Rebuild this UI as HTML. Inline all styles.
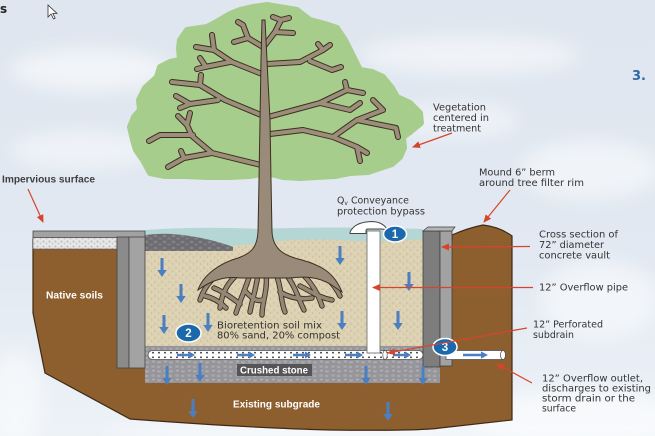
<!DOCTYPE html>
<html><head><meta charset="utf-8"><style>
html,body{margin:0;padding:0;width:655px;height:436px;overflow:hidden;background:#e2e9f1}
svg{display:block}
.lb{font-family:"DejaVu Sans","Liberation Sans",sans-serif;font-size:9.5px;fill:#333}
.wb{font-family:"Liberation Sans",sans-serif;font-weight:bold;font-size:10px;fill:#fff}
</style></head><body>
<svg width="655" height="436" viewBox="0 0 655 436" xmlns="http://www.w3.org/2000/svg">
<defs>
<linearGradient id="sky" x1="0" y1="0" x2="0" y2="1">
<stop offset="0" stop-color="#dfe6ef"/><stop offset="0.6" stop-color="#e2e9f2"/><stop offset="1" stop-color="#edf2f7"/>
</linearGradient>
<filter id="bl" x="-50%" y="-50%" width="200%" height="200%"><feGaussianBlur stdDeviation="9"/></filter>
<pattern id="sand" width="7" height="7" patternUnits="userSpaceOnUse">
<rect width="7" height="7" fill="#dcd1b2"/>
<circle cx="1" cy="2" r="0.6" fill="#bfae86"/><circle cx="4.5" cy="5" r="0.6" fill="#c4b48e"/>
<circle cx="5" cy="1" r="0.5" fill="#efe7d1"/><circle cx="2" cy="5.5" r="0.5" fill="#eee5cd"/>
</pattern>
<pattern id="stone" width="12" height="9" patternUnits="userSpaceOnUse">
<rect width="12" height="9" fill="#97979b"/>
<ellipse cx="3" cy="2.3" rx="2.7" ry="1.9" fill="#a8a8ac" stroke="#86868b" stroke-width="0.5"/>
<ellipse cx="9" cy="6.5" rx="2.7" ry="1.9" fill="#a5a5a9" stroke="#86868b" stroke-width="0.5"/>
<ellipse cx="9.5" cy="1.5" rx="1.5" ry="1.1" fill="#aeaeb2"/>
<ellipse cx="2.5" cy="7" rx="1.6" ry="1.2" fill="#aaaaae"/>
</pattern>
<pattern id="pile" width="9" height="6" patternUnits="userSpaceOnUse">
<rect width="9" height="6" fill="#6c6c71"/>
<ellipse cx="2.5" cy="2" rx="2" ry="1.4" fill="#828288"/><ellipse cx="7" cy="4.5" rx="2" ry="1.3" fill="#7c7c82"/>
</pattern>
<pattern id="grav" width="6" height="5" patternUnits="userSpaceOnUse">
<rect width="6" height="5" fill="#e7e7e7"/>
<circle cx="1.5" cy="1.5" r="1" fill="#b9b9b9"/><circle cx="4.5" cy="3.5" r="0.9" fill="#c4c4c4"/>
</pattern>
<pattern id="perf" width="6" height="9" patternUnits="userSpaceOnUse" x="150" y="350.5">
<circle cx="3" cy="2.2" r="0.9" fill="#2c2c2c"/><circle cx="3" cy="6.8" r="0.9" fill="#2c2c2c"/>
</pattern>
<marker id="ah" markerWidth="8" markerHeight="7" refX="7" refY="3.5" orient="auto" markerUnits="userSpaceOnUse">
<path d="M0,0 L8,3.5 L0,7 z" fill="#d5452c"/>
</marker>
<path id="da" d="M-1.5,0 h3 v12 h3.2 l-4.7,7 l-4.7,-7 h3.2 z" fill="#4b7fc2"/>
<path id="ra" d="M0,-1.2 h12 v-2.4 l6,3.6 l-6,3.6 v-2.4 h-12 z" fill="#4b7fc2"/>
<g id="br">
<path d="M262,74 L232,62 L214,50 L196,47 M214,50 L212,35 M230,62 L205,67 L197,69 M206,67 L200,58"/>
<path d="M261,115 L225,100 L200,85 L172,82 M200,85 L201,75 M218,100 L190,104 L180,108 M190,104 L176,96"/>
<path d="M261,165 L212,153 L192,136 L187,125 L178,116 M187,125 L190,113 M212,153 L184,158 L168,167 M184,158 L181,151 M193,135 L160,135 L149,141"/>
<path d="M263,47 L248,38 L243,25 L238,22 M248,38 L234,42 M265,45 L275,32 L281,20 L273,17 M275,32 L293,33 M281,20 L289,18"/>
<path d="M267,64 L300,62 L323,50 L330,45 M323,50 L318,44 M310,61 L332,70 L341,67"/>
<path d="M268,117 L320,103 L347,90 L363,93 M347,90 L345,82 M320,103 L350,110 L360,103"/>
<path d="M270,134 L303,130 L333,137 L357,120 L383,110 L373,100 M357,120 L396,128 L398,137 M333,137 L357,147 L367,153 M357,147 L360,161"/>
</g>
<g id="rt">
<path d="M232,266 C218,272 206,282 200,300 M240,272 C228,282 222,292 220,308 M250,274 C246,288 240,300 236,313 M258,274 C256,290 252,300 250,312 M266,274 C268,290 262,302 262,315 M276,274 C282,288 280,300 285,312 M286,274 C296,288 298,298 304,310 M298,270 C312,282 318,294 322,306 M310,268 C325,275 334,283 340,296"/>
<path d="M214,288 C224,292 232,298 240,304 M280,292 C290,298 300,300 312,298 M205,296 C214,298 220,302 226,308 M246,292 C252,298 256,302 262,300 M300,286 C312,292 320,298 332,300"/>
</g>
</defs>

<!-- background -->
<rect width="655" height="436" fill="url(#sky)"/>
<g filter="url(#bl)" fill="#fff">
<ellipse cx="90" cy="70" rx="80" ry="22" opacity="0.55"/>
<ellipse cx="470" cy="55" rx="110" ry="20" opacity="0.5"/>
<ellipse cx="590" cy="170" rx="70" ry="30" opacity="0.5"/>
<ellipse cx="80" cy="150" rx="70" ry="20" opacity="0.45"/>
<ellipse cx="460" cy="120" rx="60" ry="18" opacity="0.45"/>
<ellipse cx="600" cy="300" rx="60" ry="40" opacity="0.5"/>
<ellipse cx="580" cy="420" rx="110" ry="30" opacity="0.6"/>
<ellipse cx="15" cy="400" rx="30" ry="50" opacity="0.5"/>
<ellipse cx="300" cy="432" rx="200" ry="10" opacity="0.6"/>
</g>

<!-- tree crown -->
<polygon fill="#a7cd8c" stroke="#a7cd8c" stroke-width="6" stroke-linejoin="round" points="253,7 267,5 285,8 297,10 310,20 325,24 337,28 345,40 350,50 356,62 360,70 372,72 383,77 392,88 397,97 410,103 420,113 421,123 410,132 403,137 404,148 400,157 392,164 383,167 368,172 350,173 335,176 317,177 300,178 283,177 267,173 250,176 230,177 207,177 185,176 165,176 150,173 143,160 136,150 133,140 130,127 134,117 140,110 139,100 145,88 157,77 160,67 170,62 180,60 179,48 180,40 187,30 200,28 207,27 220,20 230,14 240,10"/>
<use href="#br" fill="none" stroke="#3a3020" stroke-width="6" stroke-linecap="round" stroke-linejoin="round"/>
<use href="#br" fill="none" stroke="#9d8d7b" stroke-width="4" stroke-linecap="round" stroke-linejoin="round"/>

<!-- soil -->
<path d="M33,239 L33,313 L45,373 L130,419 Q250,428 330,430 Q420,431 440,428 L512,420 L512,236 Q500,227 483,225 Q468,228 452,235 L452,240 Z" fill="#8e5f2e" stroke="#3e2a14" stroke-width="1.2"/>
<!-- sand -->
<rect x="145" y="234" width="278" height="113" fill="url(#sand)"/>
<path d="M145,230 Q200,226 260,229 Q330,226 423,229 L423,239 Q380,243 340,240 Q300,238 270,242 Q240,246 200,248 L145,250 Z" fill="#b4d6d5"/>
<path d="M145,235 Q165,232 190,236 Q215,240 233,247 L233,251 L145,251 Z" fill="url(#pile)"/>
<!-- crushed stone -->
<rect x="145" y="346" width="295" height="37" fill="url(#stone)"/>

<!-- slab + left wall -->
<rect x="33" y="237" width="84" height="12" fill="url(#grav)" stroke="#555" stroke-width="0.6"/>
<rect x="33" y="231" width="112" height="6.5" fill="#a2a2a2" stroke="#4a4a4a" stroke-width="0.8"/>
<rect x="117" y="237" width="12" height="131" fill="#8b8b8b" stroke="#444" stroke-width="0.8"/>
<rect x="129" y="237" width="16" height="131" fill="#a3a3a3" stroke="#444" stroke-width="0.8"/>

<!-- trunk and roots -->
<use href="#rt" fill="none" stroke="#3a3020" stroke-width="5.4" stroke-linecap="round"/>
<use href="#rt" fill="none" stroke="#968675" stroke-width="3.6" stroke-linecap="round"/>
<path d="M262,20 L265,20 L267,60 L270,120 L271,180 L272,232 C273,250 285,256 302,260 C320,265 334,272 342,292 L330,284 C318,277 305,276 290,278 L240,278 C225,276 212,280 198,290 C203,275 220,263 238,258 C252,253 257,247 258,232 L259,180 L260,120 L261,60 Z" fill="#9a8a7a" stroke="#3a3020" stroke-width="1"/>

<!-- right wall -->
<rect x="423" y="231" width="17" height="136" fill="#7d7d7d" stroke="#3f3f3f" stroke-width="0.8"/>
<rect x="440" y="231" width="12" height="135" fill="#a2a2a2" stroke="#3f3f3f" stroke-width="0.8"/>
<polygon points="423,231 428,227 455,227 452,231" fill="#b5b5b5" stroke="#3f3f3f" stroke-width="0.7"/>

<!-- pipes -->
<rect x="148" y="350.5" width="275" height="9" rx="4.5" fill="#fff" stroke="#555" stroke-width="0.8"/>
<rect x="150" y="350.5" width="272" height="9" fill="url(#perf)"/>
<ellipse cx="385" cy="355" rx="2.2" ry="4.5" fill="#fff" stroke="#555" stroke-width="0.7"/>
<rect x="367" y="231" width="13" height="122" fill="#fff" stroke="#666" stroke-width="0.8"/>
<path d="M350,233.5 L366,233.5 L366,231 Q366,229 368,229 L381,229 Q386,229 388,231 Q384,222 372,221.5 Q357,222 352,229 Q350,231 350,233.5 Z" fill="#fff" stroke="#444" stroke-width="1"/>
<rect x="446" y="350.5" width="57" height="9" fill="#fff" stroke="#555" stroke-width="0.8"/>
<ellipse cx="503" cy="355" rx="2.5" ry="4.5" fill="#fff" stroke="#555" stroke-width="0.8"/>

<!-- blue arrows -->
<use href="#da" x="162" y="258"/><use href="#da" x="181" y="284"/><use href="#da" x="164" y="315"/><use href="#da" x="208" y="313"/>
<use href="#da" x="340" y="246"/><use href="#da" x="409" y="272"/><use href="#da" x="342" y="311"/><use href="#da" x="398" y="311"/>
<use href="#da" x="167" y="366"/><use href="#da" x="200" y="363"/><use href="#da" x="366" y="366"/><use href="#da" x="423" y="366"/>
<use href="#da" x="193" y="399"/><use href="#da" x="388" y="402"/>
<use href="#ra" x="177" y="355"/><use href="#ra" x="237" y="355"/><use href="#ra" x="293" y="355"/><use href="#ra" x="345" y="355"/><use href="#ra" x="393" y="355"/>
<path d="M463,353.8 h18 v-2.4 l7,3.6 l-7,3.6 v-2.4 h-18 z" fill="#4b7fc2"/>

<!-- badges -->
<g font-family="Liberation Sans,sans-serif" font-weight="bold" font-size="11.5" fill="#fff" text-anchor="middle">
<ellipse cx="395" cy="234" rx="11.5" ry="8" fill="#1b69ab" stroke="#fff" stroke-width="1.5"/><text x="395" y="238.2">1</text>
<ellipse cx="188.5" cy="333" rx="12.5" ry="9" fill="#1b69ab" stroke="#fff" stroke-width="1.5"/><text x="188.5" y="337.2">2</text>
<ellipse cx="445" cy="347" rx="12" ry="8.5" fill="#1b69ab" stroke="#fff" stroke-width="1.5"/><text x="445" y="351.2">3</text>
</g>

<!-- red leader arrows -->
<g stroke="#d5452c" stroke-width="1.2" fill="none" marker-end="url(#ah)">
<line x1="452" y1="133" x2="413" y2="147"/>
<line x1="510" y1="190" x2="484" y2="222"/>
<line x1="28" y1="189" x2="43" y2="222"/>
<line x1="530" y1="246.5" x2="442" y2="247"/>
<line x1="533" y1="287.5" x2="373" y2="287.5"/>
<line x1="527" y1="328" x2="388" y2="353"/>
<line x1="532" y1="383" x2="497" y2="364"/>
</g>

<!-- labels -->
<text class="lb" x="433" y="110.5" textLength="53" lengthAdjust="spacingAndGlyphs">Vegetation</text>
<text class="lb" x="433" y="121" textLength="56" lengthAdjust="spacingAndGlyphs">centered in</text>
<text class="lb" x="433" y="131.5" textLength="48" lengthAdjust="spacingAndGlyphs">treatment</text>
<text class="lb" x="479" y="175.5" textLength="76" lengthAdjust="spacingAndGlyphs">Mound 6” berm</text>
<text class="lb" x="479" y="186" textLength="105" lengthAdjust="spacingAndGlyphs">around tree filter rim</text>
<text class="lb" x="337" y="203.5" textLength="72" lengthAdjust="spacingAndGlyphs">Q<tspan font-size="6" dy="1.5">v</tspan><tspan dy="-1.5"> Conveyance</tspan></text>
<text class="lb" x="337" y="214.5" textLength="88" lengthAdjust="spacingAndGlyphs">protection bypass</text>
<text class="lb" x="539" y="237.5" textLength="79" lengthAdjust="spacingAndGlyphs">Cross section of</text>
<text class="lb" x="539" y="248" textLength="65" lengthAdjust="spacingAndGlyphs">72” diameter</text>
<text class="lb" x="539" y="258.5" textLength="71" lengthAdjust="spacingAndGlyphs">concrete vault</text>
<text class="lb" x="539" y="290.5" textLength="89" lengthAdjust="spacingAndGlyphs">12” Overflow pipe</text>
<text class="lb" x="533" y="327.5" textLength="70" lengthAdjust="spacingAndGlyphs">12” Perforated</text>
<text class="lb" x="533" y="338" textLength="41" lengthAdjust="spacingAndGlyphs">subdrain</text>
<text class="lb" x="542" y="381.5" textLength="101" lengthAdjust="spacingAndGlyphs">12” Overflow outlet,</text>
<text class="lb" x="542" y="391.5" textLength="109" lengthAdjust="spacingAndGlyphs">discharges to existing</text>
<text class="lb" x="542" y="401.5" textLength="93" lengthAdjust="spacingAndGlyphs">storm drain or the</text>
<text class="lb" x="542" y="411.5" textLength="34" lengthAdjust="spacingAndGlyphs">surface</text>
<text class="lb" x="217" y="328.5" font-size="10" textLength="105" lengthAdjust="spacingAndGlyphs">Bioretention soil mix</text>
<text class="lb" x="217" y="338.5" font-size="10" textLength="123" lengthAdjust="spacingAndGlyphs">80% sand, 20% compost</text>

<text x="2" y="182.5" font-family="Liberation Sans,sans-serif" font-weight="bold" font-size="10" fill="#3e3e3e" textLength="93" lengthAdjust="spacingAndGlyphs">Impervious surface</text>
<text class="wb" x="46" y="298.5" textLength="57" lengthAdjust="spacingAndGlyphs">Native soils</text>
<text class="wb" x="233" y="407.5" textLength="87" lengthAdjust="spacingAndGlyphs">Existing subgrade</text>
<rect x="237" y="364" width="75" height="12" fill="#555558"/>
<text class="wb" x="240" y="373.5" font-size="9.5" textLength="68" lengthAdjust="spacingAndGlyphs">Crushed stone</text>

<text x="632" y="80" font-family="DejaVu Sans,sans-serif" font-weight="bold" font-size="13" fill="#2c6aa6">3.</text>
<text x="0" y="13" font-family="DejaVu Sans,sans-serif" font-weight="bold" font-size="12" fill="#222">s</text>
<path d="M48,5 L48,17 L51,14 L53.5,19 L55.2,18.2 L52.8,13.4 L57,13.4 Z" fill="#fff" stroke="#333" stroke-width="0.8"/>
</svg>
</body></html>
